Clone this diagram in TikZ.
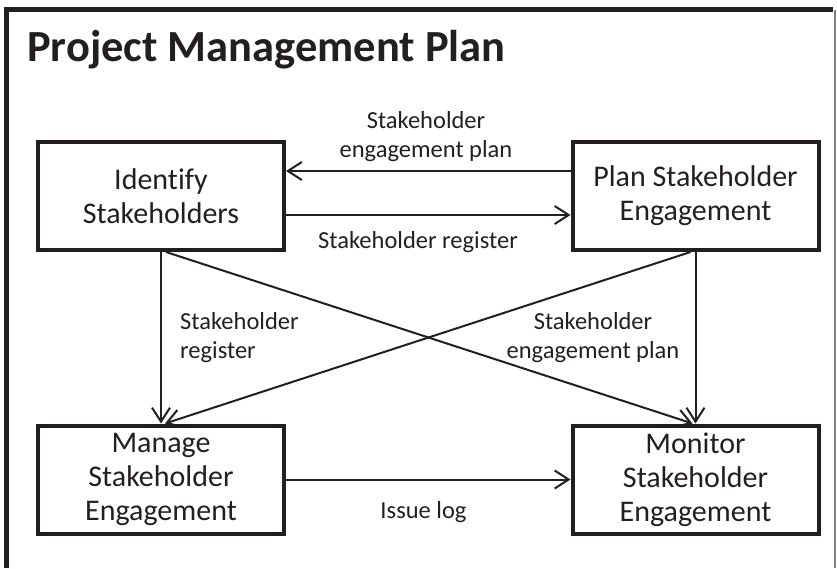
\documentclass[tikz,border=0pt]{standalone}
\usepackage{fontspec}
\setmainfont[Ligatures=NoCommon]{Carlito}
\usetikzlibrary{arrows.meta}
\definecolor{inkdark}{RGB}{35,31,32}
\begin{document}
\begin{tikzpicture}[x=1pt, y=-1pt,
    box/.style={draw=inkdark, line width=4pt, minimum width=246pt, minimum height=108pt,
                inner sep=0pt, align=center, text=inkdark, font=\fontsize{30}{34}\selectfont},
    lbl/.style={inner sep=0pt, anchor=base, text=inkdark, font=\fontsize{24.5}{29}\selectfont},
    arr/.style={draw=inkdark, line width=2pt, -{Straight Barb[length=14pt, width=18pt, line width=2pt]}}]
    \useasboundingbox (0,0) rectangle (837,568);

    % frame
    \draw[inkdark, line width=5pt] (6,568) -- (6,9.5) -- (833,9.5);
    \draw[gray, line width=1.5pt] (835,9.5) -- (835,568);
    \node[anchor=base west, inner sep=0pt, text=inkdark, font=\fontsize{44.5}{52}\selectfont\bfseries]
        (title) at (27,61) {Project Management Plan};

    \node[box] (identify) at (161,196) {Identify\\Stakeholders};
    \node[box] (plan) at (695.5,196) {Plan Stakeholder\\Engagement};
    \node[box] (manage) at (161,479.5) {Manage\\Stakeholder\\Engagement};
    \node[box] (monitor) at (695.5,479.5) {Monitor\\Stakeholder\\Engagement};

    \draw[arr] ([yshift=25pt]plan.west) -- ([yshift=25pt]identify.east);
    \draw[arr] ([yshift=-19pt]identify.east) -- ([yshift=-19pt]plan.west);
    \draw[arr] (identify.south) -- (manage.north);
    \draw[arr] (plan.south) -- (monitor.north);
    \draw[arr] ([xshift=5pt]identify.south) -- ([xshift=-3pt]monitor.north);
    \draw[arr] ([xshift=-5pt]plan.south) -- ([xshift=4pt]manage.north);
    \draw[arr] (manage.east) -- (monitor.west);

    % last-line baselines
    \node[lbl, align=center] (engplan) at (426,157) {Stakeholder\\engagement plan};
    \node[lbl] (register) at (418,248) {Stakeholder register};
    \node[lbl, align=left, anchor=base west] (registerdown) at (180,358) {Stakeholder\\register};
    \node[lbl, align=center] (engplandown) at (593,358) {Stakeholder\\engagement plan};
    \node[lbl] (issuelog) at (423.5,518) {Issue log};
\end{tikzpicture}
\end{document}
